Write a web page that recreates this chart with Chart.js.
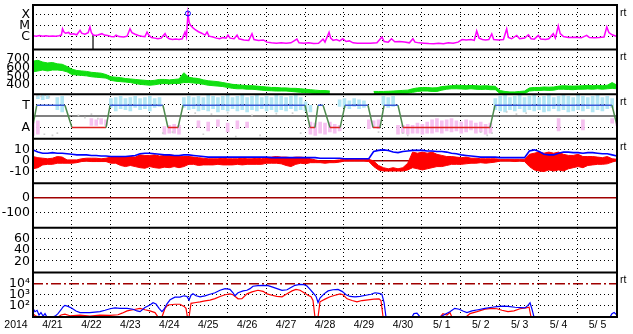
<!DOCTYPE html>
<html><head><meta charset="utf-8">
<script src="https://cdn.jsdelivr.net/npm/chart.js@4.4.1/dist/chart.umd.min.js"></script>
<style>html,body{margin:0;padding:0;background:#fff}canvas{display:block}</style>
</head><body>
<canvas id="c" width="633" height="334"></canvas>
<script>
// ---------- categories / tick labels ----------
const yearLabel = '2014';
const dayLabels = ['4/21','4/22','4/23','4/24','4/25','4/26','4/27','4/28','4/29','4/30','5/ 1','5/ 2','5/ 3','5/ 4','5/ 5'];
const xrayTickVals = [1e-6, 1e-5, 1e-4];
const xrayTickLabels = ['C', 'M', 'X'];
const windTickVals = [400, 500, 600, 700];
const sectorTickVals = [-1, 0, 1];
const sectorTickLabels = ['A', '', 'T'];
const bTickVals = [-10, 0, 10];
const dstTickVals = [-100, 0];
const p6TickVals = [20, 40, 60];
const eTickVals = [1e2, 1e3, 1e4];
const eTickLabels = ['10\u00B2', '10\u00B3', '10\u2074'];

// ---------- X-ray flux [hour since 4/21 00UT, W/m2] ----------
const xray = [[0,1.3e-6],[2,1.2e-6],[4,1.4e-6],[6,1.2e-6],[8,1.3e-6],[10,1.2e-6],[12,1.25e-6],[14,1.15e-6],[16,1.3e-6],[17.5,1.5e-6],[18.2,5.5e-6],[19,3e-6],[20,2.2e-6],[22,2.6e-6],[23,1.8e-6],[25,2e-6],[27,1.6e-6],[29,4e-6],[30,2.2e-6],[32,1.8e-6],[34,2.5e-6],[35.1,8e-6],[36,2.5e-6],[37,1.6e-6],[38.2,1.4e-6],[40,1.5e-6],[42.5,2e-6],[44,1.5e-6],[46,1.4e-6],[48,1.1e-6],[50,1.05e-6],[51.2,1.5e-6],[53,1.1e-6],[56,1e-6],[58,1.2e-6],[59.8,5.5e-6],[61,2.5e-6],[63,1.8e-6],[65,1.4e-6],[67,1.2e-6],[69,1.1e-6],[70.3,2.8e-6],[71.5,1.4e-6],[73,9e-7],[75,8e-7],[77,7e-7],[79,8e-7],[81.4,2e-6],[82.5,1e-6],[84,7e-7],[86,6e-7],[88,6.5e-7],[90,6e-7],[92,7e-7],[93.7,2.8e-6],[94.6,1e-6],[95.5,1.3e-4],[96.3,2e-5],[97,1.2e-5],[98.5,7e-6],[100,4.5e-6],[102,3e-6],[104,2.2e-6],[106,1.5e-6],[107.3,2.8e-6],[108.5,1.2e-6],[111,1e-6],[113,8e-7],[115,7e-7],[117,9e-7],[119,8e-7],[120.2,1.5e-6],[121.5,8e-7],[124,7e-7],[125.8,1.5e-6],[127,7e-7],[130,5.5e-7],[133,5e-7],[135,2e-6],[136.2,6e-7],[139,5e-7],[142,5.5e-7],[144.2,3.5e-7],[147,3e-7],[150,2.8e-7],[153,3e-7],[156,2.8e-7],[159,3e-7],[162.7,6.5e-7],[164,3e-7],[167,2.8e-7],[170,3e-7],[173,2.6e-7],[176,2.8e-7],[178.8,6.5e-7],[180,3.5e-7],[182.5,2.7e-6],[183.5,8e-7],[185,5e-7],[187,6e-7],[189,4.5e-7],[191,7e-7],[193,4e-7],[195,4.5e-7],[197.3,3e-7],[200,2.8e-7],[204,2.7e-7],[208,2.8e-7],[212,3e-7],[215.1,1e-6],[216.5,4e-7],[219,3.5e-7],[221,7e-7],[223,3.8e-7],[226,4e-7],[229,3.5e-7],[232,3e-7],[234.2,7e-7],[235.5,3.5e-7],[238,3e-7],[241,2.8e-7],[244,2.6e-7],[247,2.5e-7],[250,2.7e-7],[253,2.5e-7],[256,3e-7],[259,2.8e-7],[262,3.5e-7],[264.5,6e-7],[267,5.5e-7],[270,6e-7],[272,5e-7],[273.5,3.5e-6],[275,8e-7],[277,6e-7],[279,5.5e-7],[281,6e-7],[282.8,1.9e-6],[284,6e-7],[287,5.5e-7],[290,6e-7],[292,5.3e-6],[293,9e-7],[295,7e-7],[298.2,1.4e-6],[300,7e-7],[303,8e-7],[305.4,1.6e-6],[307,7e-7],[309,6.5e-7],[311.5,1.4e-6],[313,6.5e-7],[316,6e-7],[318,7e-7],[320.7,2e-6],[322,8e-7],[323.8,1e-5],[325,2e-6],[327,1.1e-6],[330,9e-7],[334,9.5e-7],[338,8.5e-7],[341.3,1.4e-6],[343,9e-7],[346,8.5e-7],[349,9e-7],[352,1e-6],[353.7,8e-6],[355,2.5e-6],[357,1.6e-6],[360,1.1e-6]];
const xrayFlare = [[95.5,1.3e-4]];
const xrayGap = [[37,1.5e-6],[37,7.5e-8]];

// ---------- 3-hourly series (index i -> hour 3*i) ----------
const windHi = [670,680,660,650,655,640,635,610, 580,565,560,555,545,540,535,520, 495,490,485,475,470,465,460,455, 450,455,465,465,460,465,470,540, 490,480,475,460,450,445,440,430, 420,410,405,400,395,395,390,385, 380,375,375,370,370,365,365,360, 355,350,345,340,340,335,null,null, null,null,null,null,null,null,330,330, 330,332,335,338,342,345,360,370, 375,375,370,372,385,390,395,400, 398,395,398,395,392,395,390,388, 340,330,325,325,330,335,370,375, 375,380,378,380,390,395,392,390, 392,395,398,395,398,395,400,430, 400];
const windLo = [550,560,570,560,570,570,565,550, 520,515,510,505,495,490,485,480, 455,445,440,435,430,420,410,405, 400,405,415,420,415,420,420,430, 430,425,420,410,400,395,390,385, 375,365,360,360,355,355,350,345, 340,338,335,335,335,330,325,320, 315,312,308,305,305,302,null,null, null,null,null,null,null,null,300,300, 300,300,302,305,308,310,320,330, 335,335,330,330,345,355,360,360, 358,355,360,355,352,355,350,350, 305,300,302,302,302,305,335,340, 340,345,342,345,355,355,352,350, 355,355,358,355,360,355,360,365, 360];
const bt = [10,8,7,7,7.5,7,7,6.5, 6,5.5,5.5,5.5,5,5,4.5,4.5, 4,4,4,4,4.5,5,6.5,7, 7,6.5,6,5.5,5.5,5,5,5.5, 5.5,5,4.5,4,3.5,3.5,3.5,3.5, 3.5,3.5,3.5,3.5,3.5,3.5,3.5,3.5, 3.5,3,3,3,3,3,3,3, 3,3,3,2.5,2.5,2.5,2.5,2.5, 2,2,2,2,2,2,8.5,9.5, 10,9.5,8,7.5,8.5,9,9.5,9.5, 9.5,9,9,8.5,8.5,8,7,6.5, 5.5,5,4.5,4,3.5,3.5,3.5,3.5, 3,3,3,3,3,3,9,10, 8.5,6,5.5,5.5,7,8,8,7.5, 7.5,7,7.5,7.5,7,6.5,6.5,5.5, 4.5];
const bzHi = [4,3,2.5,2,2.5,4,3.5,1, 1,1,2,2.5,2.5,2.5,2,2.5, 3.5,4,3.5,4,4,3.5,5.5,5, 5,5.5,4.5,5,5.5,5,4.5,4, 4,3.5,3,2.5,2,2,2,2.5, 2,2,2,2.5,2,2,2.5,2, 3,3.5,4,3.5,3.5,3,3.5,3.5, 3,2,1,0,0,0,0.5,1, 1.5,1.5,1.5,1.5,1.5,1.5,0,-4, -6,-7,-6,-7,-6,-2,8,7, 8,7,8,6,5,4,4,3.5, 3,3.5,2.5,2.5,2,2,2,2, 1.5,1.5,1.5,1.5,1.5,1.5,6,7, 8,7,8,7,8,6,5,5, 6,4,4,4,3.5,3,4,2, 1.5];
const bzLo = [-7,-6,-3.5,-3,-3,-2,-2,-2, -2,-1.5,-0.5,0,-0.5,-0.5,-0.5,-0.5, -2,-2,-4,-5,-4,-5,-6,-6.5, -5,-6,-6.5,-5.5,-6,-5,-6,-5, -3,-3,-4,-3.5,-3.5,-3.5,-3,-3.5, -3.5,-3.5,-3,-3.5,-3,-3,-3,-3, -2,-2,-2,-2.5,-4,-5,-3,-2, -2.5,-1.5,-1.5,-1.5,-2,-1.5,-1.5,-1, 0,0,0,0,0,-0.5,-5,-8, -9,-9,-9,-9,-9,-8,-6,-7, -8,-7,-6,-5,-5,-4,-3,-3, -3,-2.5,-2,-2,-1.5,-2,-1.5,-1, 0,0,0,-0.5,0,-0.5,-5,-8, -9,-9.5,-8,-9,-8,-9,-7,-6, -5,-6,-4,-3.5,-3,-3,-2.5,-1, 0.5];
const cloudTHi = [null,1.9,1.9,1.85,null,1.7,1.8,null, null,null,null,null,null,null,null,null, 1.6,1.7,1.8,1.6,1.7,1.8,1.6,1.7, 1.8,1.6,1.7,null,null,null,null,1.7, 1.8,1.7,1.8,1.7,1.9,1.8,1.7,1.8, 1.9,1.7,1.8,1.9,1.7,1.8,1.9,1.7, 1.8,1.7,1.9,1.8,1.7,1.8,1.9,1.7, 1.3,1.0,null,null,null,null,null,1.5, 1.6,1.4,1.6,1.5,1.4,null,null,null, 1.8,1.7,1.8,null,null,null,null,null, null,null,null,null,null,null,null,null, null,null,null,null,null,null,null,1.6, 1.8,1.9,1.7,1.8,1.9,1.7,1.8,1.9, 1.7,1.8,1.9,1.7,1.8,1.9,1.8,1.7, 1.9,1.8,1.7,1.8,1.9,1.7,1.8,1.6, null];
const cloudTLo = [null,1.6,1.5,1.6,null,0.6,0.4,null, null,null,null,null,null,null,null,null, 0.8,0.5,0.7,0.6,0.5,0.8,0.6,0.7, 0.5,0.8,0.9,null,null,null,null,0.8, 0.6,0.7,0.5,0.6,0.5,0.7,0.4,0.6, 0.5,0.7,0.5,0.6,0.4,0.6,0.5,0.7, 0.5,0.6,0.4,0.6,0.5,0.7,0.5,0.6, 0.5,0.4,null,null,null,null,null,0.9, 0.8,0.7,0.9,0.7,0.8,null,null,null, 1.0,0.8,0.9,null,null,null,null,null, null,null,null,null,null,null,null,null, null,null,null,null,null,null,null,0.6, 0.5,0.4,0.6,0.5,0.7,0.4,0.6,0.5, 0.6,0.4,0.5,0.7,0.5,0.6,0.4,0.5, 0.6,0.5,0.7,0.4,0.6,0.5,0.7,0.8, null];
const cloudAHi = [-0.5,-0.4,null,null,null,null,null,null, null,null,null,null,-0.2,-0.3,-0.2,-0.3, null,null,null,null,null,null,null,null, null,null,null,-0.9,-0.8,-0.7,-0.8,null, null,null,-0.4,null,-0.5,null,-0.3,null, -0.6,null,-0.4,null,-0.5,null,null,null, null,null,null,null,null,null,null,null, null,-0.5,-0.6,-0.5,-0.6,-0.5,-0.7,-0.8, null,null,null,null,null,-0.3,-0.4,-0.3, null,null,null,-0.8,-0.8,-0.7,-0.8,-0.6, -0.7,-0.5,-0.3,-0.2,-0.4,-0.3,-0.2,-0.4, -0.5,-0.3,-0.4,-0.6,-0.5,-0.7,-0.6,null, null,null,null,null,null,null,null,null, null,null,null,null,-0.2,null,null,null, null,-0.3,null,null,null,null,null,-0.2, -0.3];
const cloudALo = [-1.7,-1.6,null,null,null,null,null,null, null,null,null,null,-0.8,-0.8,-0.7,-0.8, null,null,null,null,null,null,null,null, null,null,null,-1.6,-1.5,-1.5,-1.6,null, null,null,-1.0,null,-1.3,null,-0.9,null, -1.4,null,-1.1,null,-1.0,null,null,null, null,null,null,null,null,null,null,null, null,-1.6,-1.7,-1.5,-1.6,-1.4,-1.5,-1.3, null,null,null,null,null,-1.1,-1.0,-1.1, null,null,null,-1.6,-1.5,-1.6,-1.5,-1.5, -1.6,-1.5,-1.5,-1.4,-1.5,-1.3,-1.4,-1.3, -1.5,-1.4,-1.2,-1.5,-1.4,-1.6,-1.5,null, null,null,null,null,null,null,null,null, null,null,null,null,-1.3,null,null,null, null,-1.2,null,null,null,null,null,-0.6, -0.8];

// ---------- IMF sector line [hour, +1 toward / -1 away] ----------
const sector = [[0,-0.8],[2.3,1],[19.7,1],[24,-1],[45,-1],[47.5,1],[80.1,1],[83.2,-1],[89.4,-1],[92.5,1],[167.7,1],[170.8,-1],[173.8,-1],[175.7,1],[178.8,1],[183.1,-1],[189.3,-1],[192.3,1],[206.5,1],[209.6,-1],[213.9,-1],[216.4,1],[225,1],[228.1,-1],[281.7,-1],[284.8,1],[356.9,1],[360,-0.8]];
const sectorGray = [[2.5,1.85],[5,1.8],[7.5,1.9],[10,1.75],[7,-1.6],[12,-1.7],[15,-1.5],[28,0.1],[32,-0.1],[36,0.2],[40,-0.2],[72,-1.3],[80,-1.5],[86,-1.4],[100,0.3],[110,0.2],[120,0.35],[135,0.1],[150,0.25],[160,0.3],[105,-1.6],[125,-1.8],[140,-1.7],[165,-1.5],[210,-0.9],[213,-1.4],[228,-1.5],[231,-1.7],[276,-1.4],[280,-1.7],[283,-1.5],[292,0.4],[298,0.2],[304,0.3]];

// ---------- electron flux [hour, value] ----------
const eBlue = [[0,60],[1.2,30],[2.5,40],[3.7,15],[4.9,25],[6.2,12],[7.4,20],[8.6,10],[11.7,10],[13.6,12],[15.4,20],[17.3,45],[18.5,80],[19.7,110],[21.6,90],[24,60],[26.5,35],[29,25],[35,25],[41.3,30],[44.4,40],[47.5,55],[50.6,65],[53.6,60],[58,60],[61.6,50],[64.1,35],[66,30],[69,70],[72.1,120],[74,190],[75.8,150],[77.7,60],[79.5,30],[80.8,50],[82.6,150],[84.5,350],[87.5,600],[90.6,600],[93.1,800],[94.9,700],[96.2,330],[97.4,900],[98.6,1200],[100.5,800],[103,650],[106,800],[109.1,1100],[112.2,1500],[115.3,2500],[118.4,3500],[121.4,3000],[123.3,1500],[124.5,800],[126.4,1500],[129.5,2200],[131.9,2500],[133.8,3500],[135.6,5800],[138.7,6500],[141.8,7000],[144.9,6500],[147.3,5000],[150.4,3500],[153.5,2500],[156.6,2800],[159,4500],[161.5,7000],[164.6,8500],[167.1,8000],[168.9,6000],[170.8,3000],[172.6,1500],[174.5,700],[175.7,200],[176.9,500],[179.4,1200],[181.9,2200],[184.9,2800],[188,3000],[190.5,2000],[193,1000],[195.4,700],[198.5,650],[201.6,700],[205.3,900],[208.4,1100],[210.8,1500],[213.3,1300],[215.1,1100],[216.4,200],[217.6,10],[233.6,10],[234.8,20],[236.7,22],[238.6,10],[251,10],[254,18],[257,30],[260,60],[262.7,50],[265,35],[267.5,25],[270.6,35],[274.3,45],[278.6,60],[283,75],[286,85],[289.7,95],[292.8,90],[297.1,75],[300.2,70],[303.3,65],[305.1,110],[306.4,190],[307.6,50],[308.8,10],[355.7,10],[356.9,20],[358.2,25],[360,15]];
const eRed = [[0,20],[1.8,12],[4.3,10],[15.4,10],[17.3,15],[19.7,18],[22.8,13],[29,15],[35.1,12],[41.3,15],[47.5,14],[52.4,16],[54.9,22],[58,35],[61.6,45],[66,60],[69,45],[72.1,35],[75.2,25],[77.1,10],[79.5,10],[81.4,60],[83.2,120],[87.5,140],[90.6,140],[93.1,90],[94.3,60],[95.2,10],[96.2,10],[97.4,170],[100.5,200],[103,230],[106,280],[109.1,330],[112.2,450],[115.3,700],[118.4,1000],[121.4,1200],[123.3,1000],[126.4,430],[128.8,450],[131.9,1200],[135,1800],[138.7,2500],[141.8,2000],[144.2,1200],[147.3,900],[150.4,700],[153.5,650],[156.6,1200],[159.7,2200],[162.1,3000],[164.6,2500],[167.1,1500],[169.5,900],[171.4,650],[172.6,300],[173.8,10],[175.7,10],[176.9,230],[180,400],[183.1,650],[186.2,900],[189.3,1200],[191.1,1000],[193.6,430],[196.7,300],[199.7,230],[202.8,300],[206.5,350],[210.2,400],[213.3,430],[214.5,300],[215.8,10],[251,10],[252.7,20],[255.2,15],[257,25],[258.2,10],[266.9,10],[269.4,20],[273.7,30],[278.6,50],[283,60],[286,55],[289.1,40],[292.8,30],[296.5,35],[300.2,55],[303.9,65],[305.8,75],[307,10],[360,10]];

// ---------- helpers ----------
const STEP = 3;
const pairs = a => a.map(p => ({x: p[0], y: p[1]}));
const steps = a => a.map((v, i) => ({x: i * STEP, y: v}));
const floating = (hi, lo) => hi.map((v, i) => v === null ? null : {x: i * STEP, y: [lo[i], v]}).filter(Boolean);

Chart.defaults.font.family = '"Liberation Sans", "DejaVu Sans", Arial, sans-serif';
Chart.defaults.color = '#000';

const DARKRED = '#a00000';
const panelIds = ['y1','y2','y3','y4','y5','y6','y7'];
const rtPanels = ['y1','y2','y3','y4','y7'];
const panelRefs = {
  y3: {0: {color: '#808080', width: 2, dash: []}},
  y4: {0: {color: DARKRED, width: 1.5, dash: []}},
  y5: {0: {color: DARKRED, width: 1.5, dash: []}},
  y7: {10000: {color: DARKRED, width: 1.5, dash: [10, 3, 2, 3]}}
};
function refOf(c, refs) { return (refs && c && c.tick) ? refs[c.tick.value] : undefined; }
function panelAxis(id, weight, extra, tickVals, tickLabels) {
  const refs = panelRefs[id];
  return Object.assign({
    position: 'left', stack: 'panels', stackWeight: 1, weight: weight, offset: false,
    afterBuildTicks: s => { s.ticks = tickVals.map(v => ({value: v})); },
    afterFit: s => { s.width = 33; s.paddingTop = 0; s.paddingBottom = 0; },
    ticks: {autoSkip: false, padding: 3, color: '#000', font: {family: '"DejaVu Sans", "Liberation Sans", sans-serif', size: 12.5},
      callback: v => { const k = tickVals.indexOf(v); return k < 0 ? '' : (tickLabels ? tickLabels[k] : String(v)); }},
    grid: {drawTicks: false,
      color: c => { const r = refOf(c, refs); return r ? r.color : 'rgba(0,0,0,0)'; },
      lineWidth: c => { const r = refOf(c, refs); return r ? r.width : 1; }},
    border: {display: false, dash: c => { const r = refOf(c, refs); return r ? r.dash : []; }}
  }, extra);
}

// dotted grid at the scales' tick positions (1px dots every 4px)
const dotGridPlugin = {
  id: 'dotgrid',
  beforeDatasetsDraw(chart) {
    const {ctx, chartArea: a} = chart;
    ctx.save(); ctx.fillStyle = '#000';
    panelIds.forEach(id => {
      const s = chart.scales[id], refs = panelRefs[id];
      s.ticks.forEach(t => {
        if (refs && refs[t.value]) return;
        const y = Math.round(s.getPixelForValue(t.value)) - 1;
        for (let x = Math.round(a.left) + 3; x < a.right - 1; x += 4) ctx.fillRect(x, y, 1, 1);
      });
    });
    const sx = chart.scales.x;
    sx.ticks.forEach(t => {
      if (t.value % 24 !== 0) return;
      const x = Math.round(sx.getPixelForValue(t.value)) - 1;
      for (let y = Math.round(a.top) + 3; y < a.bottom - 1; y += 4) ctx.fillRect(x, y, 1, 1);
    });
    ctx.restore();
  }
};

const framePlugin = {
  id: 'frame',
  afterDatasetsDraw(chart) {
    const {ctx, chartArea: a} = chart;
    ctx.save();
    ctx.strokeStyle = '#000'; ctx.lineWidth = 2; ctx.setLineDash([]);
    panelIds.slice(0, -1).forEach(id => {
      const y = chart.scales[id].bottom;
      ctx.beginPath(); ctx.moveTo(a.left, y); ctx.lineTo(a.right, y); ctx.stroke();
    });
    ctx.strokeRect(a.left, a.top, a.right - a.left, a.bottom - a.top);
    ctx.fillStyle = '#000';
    ctx.font = '10.5px "Liberation Sans", Arial, sans-serif';
    ctx.textBaseline = 'middle'; ctx.textAlign = 'left';
    rtPanels.forEach(id => ctx.fillText('rt', a.right + 3, chart.scales[id].top + 8));
    ctx.textAlign = 'center';
    ctx.fillText(yearLabel, 16, chart.scales.x.top + 2 + 6.3);
    ctx.restore();
  }
};

const sectorColors = {T: '#3a5ad8', A: '#e02020', turn: '#4d8a4d'};

new Chart(document.getElementById('c'), {
  type: 'line',
  data: {
    datasets: [
      // panel 1
      {data: pairs(xray), yAxisID: 'y1', borderColor: '#ff00ff', borderWidth: 1.5, pointRadius: 0, order: 0},
      {data: pairs(xrayFlare), yAxisID: 'y1', showLine: false, pointRadius: 2.5, pointBorderColor: '#0000ff', pointBackgroundColor: 'rgba(0,0,0,0)', pointBorderWidth: 1, order: -1},
      {data: pairs(xrayGap), yAxisID: 'y1', borderColor: '#505050', borderWidth: 1, pointRadius: 0, order: 1},
      // panel 2
      {data: steps(windHi), yAxisID: 'y2', borderColor: '#10e010', borderWidth: 1, pointRadius: 0, fill: false, order: 1},
      {data: steps(windLo), yAxisID: 'y2', borderColor: '#10e010', borderWidth: 1, pointRadius: 0, fill: '-1', backgroundColor: '#10e010', order: 1},
      // panel 3
      {data: pairs(sector), yAxisID: 'y3', borderWidth: 1.5, pointRadius: 0, borderColor: sectorColors.T,
        segment: {borderColor: c => { const p = c.p0.parsed.y, q = c.p1.parsed.y;
          if (p >= 0.99 && q >= 0.99) return sectorColors.T; if (p <= -0.99 && q <= -0.99) return sectorColors.A; return sectorColors.turn; }}, order: 0},
      {type: 'bar', data: floating(cloudTHi, cloudTLo), yAxisID: 'y3', backgroundColor: '#b2e6f4', barThickness: 3, grouped: false, order: 3},
      {type: 'bar', data: floating(cloudAHi, cloudALo), yAxisID: 'y3', backgroundColor: '#f6c0f0', barThickness: 3, grouped: false, order: 3},
      {data: pairs(sectorGray), yAxisID: 'y3', showLine: false, pointStyle: 'rect', pointRadius: 1.2, pointBackgroundColor: '#cfcfcf', pointBorderWidth: 0, order: 2},
      // panel 4
      {data: steps(bt), yAxisID: 'y4', borderColor: '#0000ff', borderWidth: 1.6, pointRadius: 0, order: 0},
      {data: steps(bzHi), yAxisID: 'y4', borderColor: '#ff0000', borderWidth: 1, pointRadius: 0, fill: false, order: 1},
      {data: steps(bzLo), yAxisID: 'y4', borderColor: '#ff0000', borderWidth: 1, pointRadius: 0, fill: '-1', backgroundColor: '#ff0000', order: 1},
      // panel 7
      {data: pairs(eBlue), yAxisID: 'y7', borderColor: '#0000ff', borderWidth: 1.2, pointRadius: 0, order: 0},
      {data: pairs(eRed), yAxisID: 'y7', borderColor: '#ff0000', borderWidth: 1.2, pointRadius: 0, order: 1}
    ]
  },
  options: {
    responsive: false, animation: false, devicePixelRatio: 1, events: [],
    layout: {padding: {left: 0, right: 16, top: 3, bottom: 0}},
    plugins: {legend: {display: false}, tooltip: {enabled: false}},
    elements: {line: {tension: 0}},
    scales: {
      x: {type: 'linear', position: 'bottom', min: 0, max: 360, offset: false,
        afterBuildTicks: s => { const t = []; for (let h = 12; h < 360; h += 12) t.push({value: h}); s.ticks = t; },
        afterFit: s => { s.height = 17; s.paddingLeft = 0; s.paddingRight = 0; },
        ticks: {autoSkip: false, maxRotation: 0, padding: 2, color: '#000', font: {size: 10.5},
          callback: v => (v % 24 === 12) ? dayLabels[(v - 12) / 24] : ''},
        grid: {display: false, drawTicks: false},
        border: {display: false}},
      y1: panelAxis('y1', 7, {type: 'logarithmic', min: 7.5e-8, max: 7.5e-4}, xrayTickVals, xrayTickLabels),
      y2: panelAxis('y2', 6, {type: 'linear', min: 300, max: 800}, windTickVals, null),
      y3: panelAxis('y3', 5, {type: 'linear', min: -2, max: 2}, sectorTickVals, sectorTickLabels),
      y4: panelAxis('y4', 4, {type: 'linear', min: -20, max: 20}, bTickVals, null),
      y5: panelAxis('y5', 3, {type: 'linear', min: -200, max: 100}, dstTickVals, null),
      y6: panelAxis('y6', 2, {type: 'linear', min: 0, max: 80}, p6TickVals, null),
      y7: panelAxis('y7', 1, {type: 'logarithmic', min: 10, max: 1e5}, eTickVals, eTickLabels)
    }
  },
  plugins: [dotGridPlugin, framePlugin]
});
</script>
</body></html>
